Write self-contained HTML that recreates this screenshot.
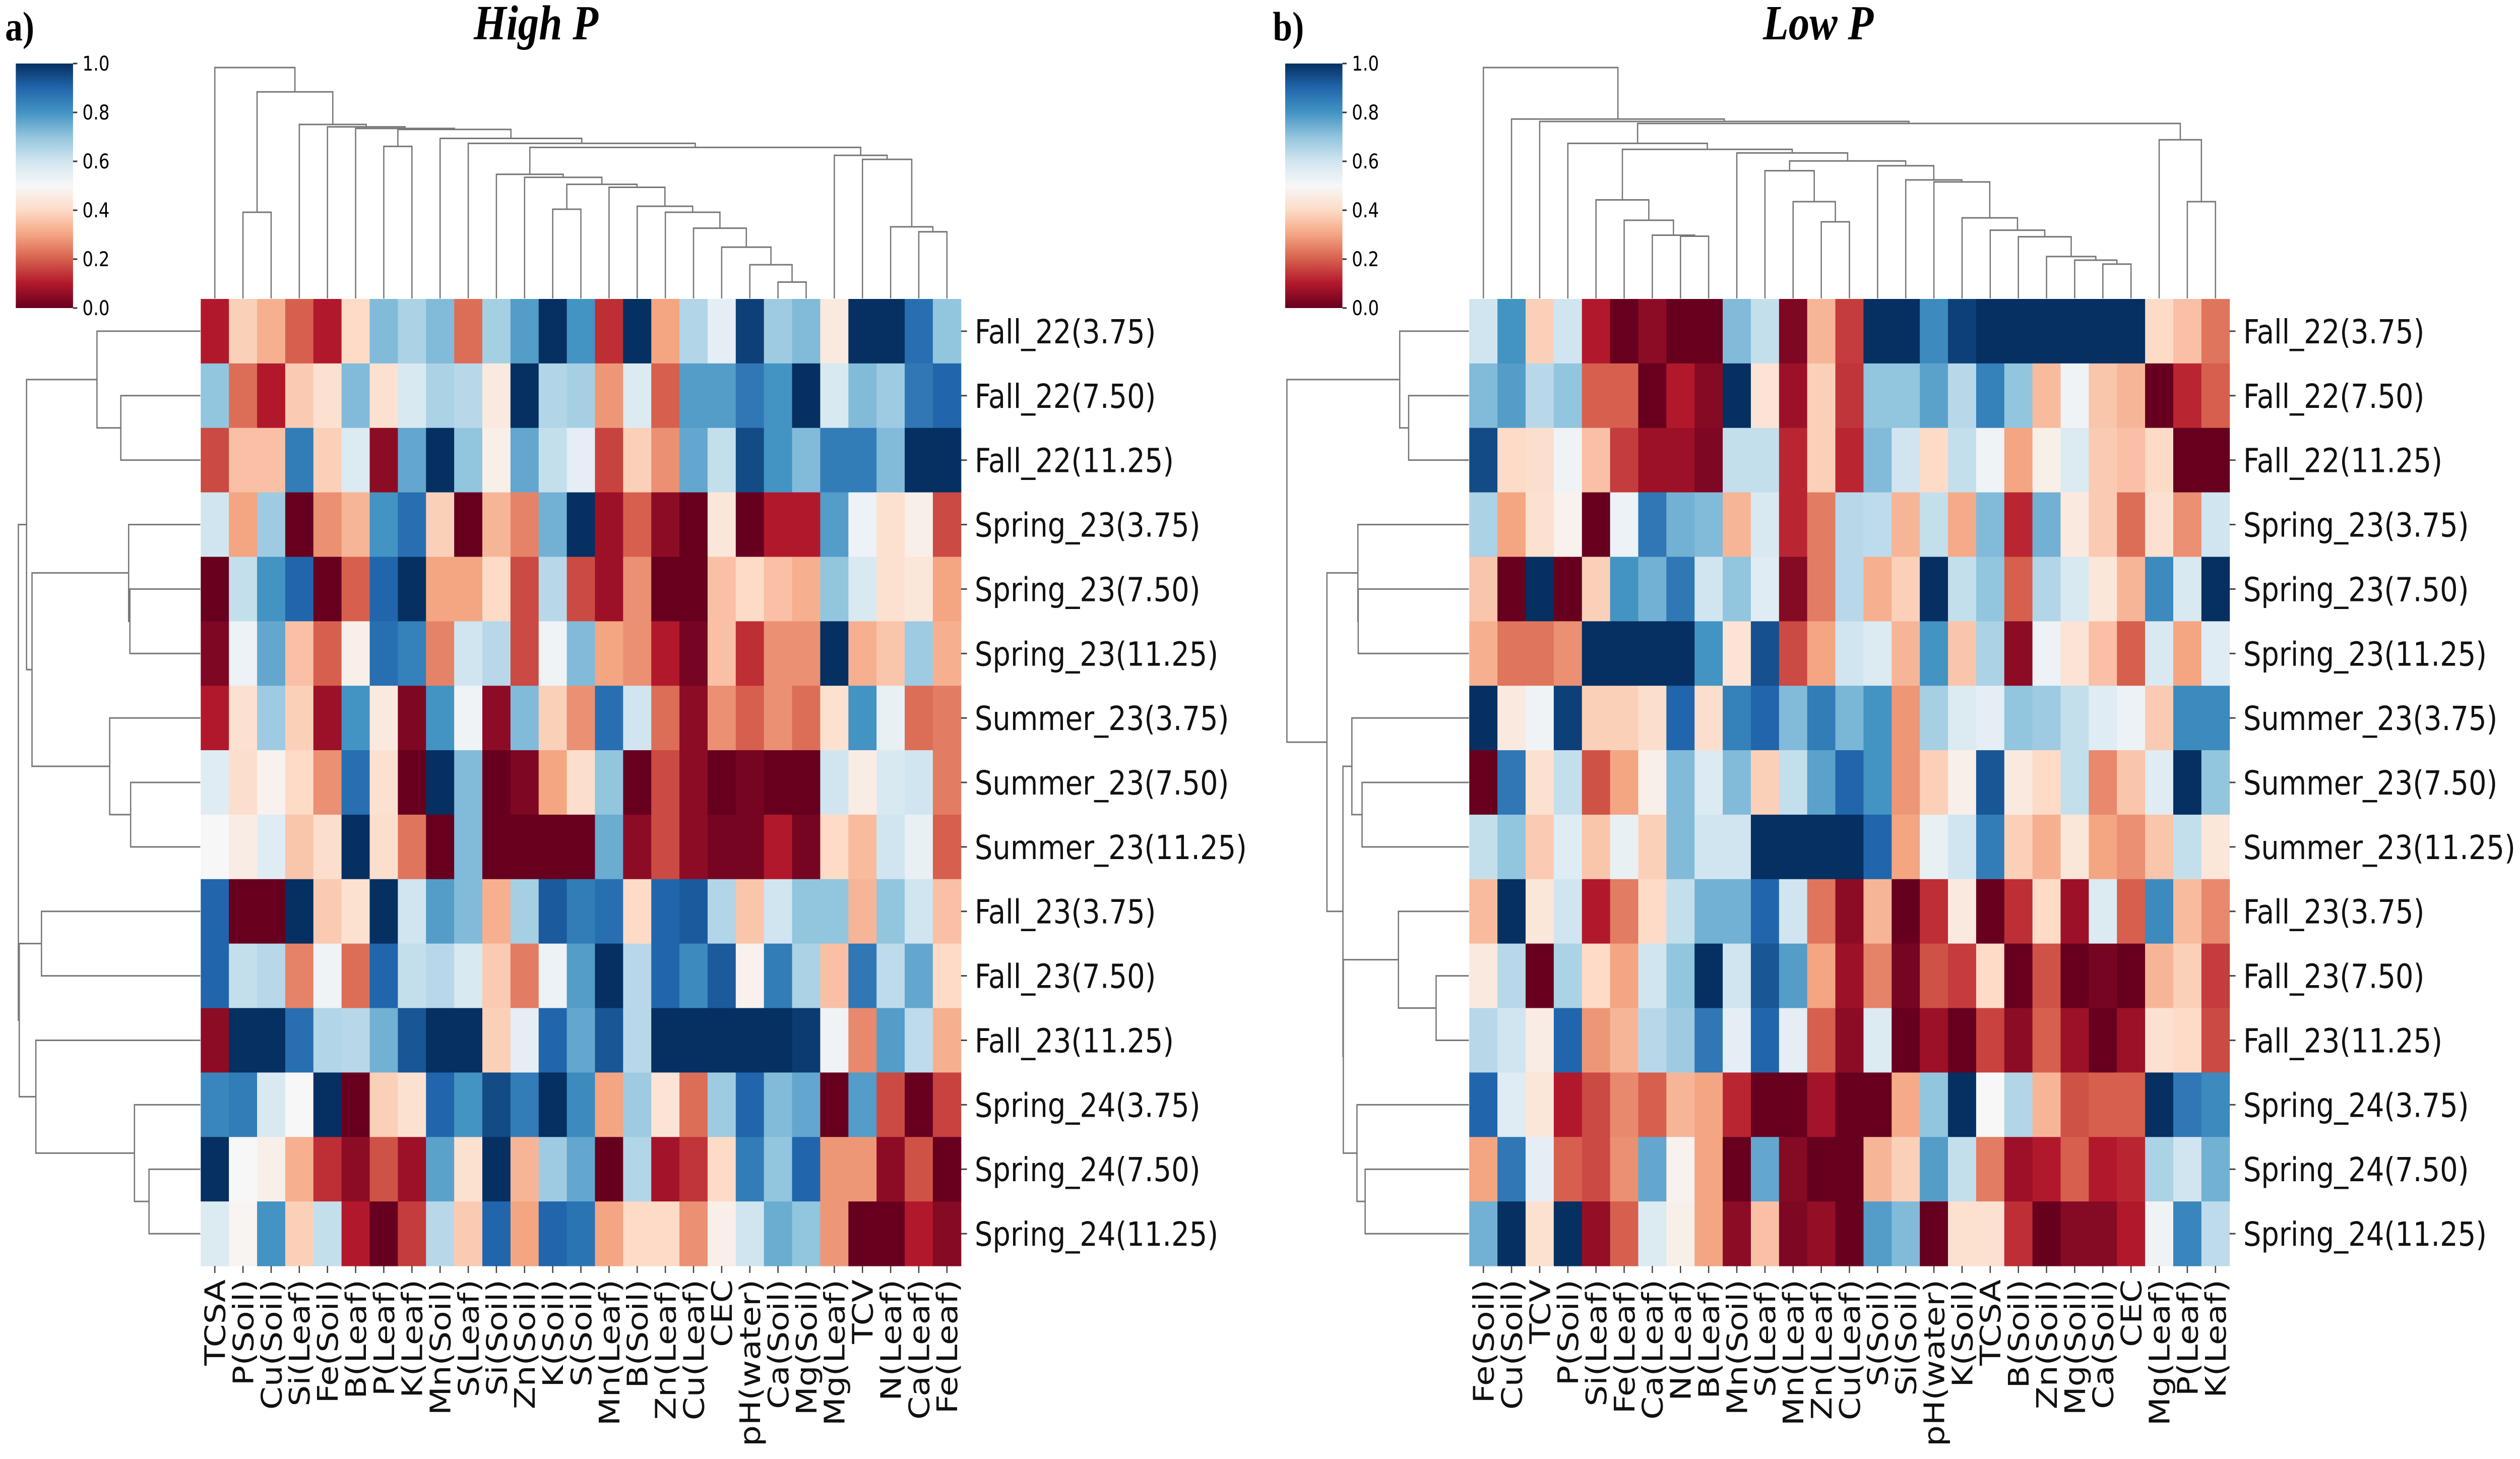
<!DOCTYPE html>
<html><head><meta charset="utf-8"><style>
html,body{margin:0;padding:0;background:#fff;overflow:hidden;width:100vw;height:100vh;}
svg{display:block;width:100vw;height:100vh;}
</style></head><body>
<svg id="chart" viewBox="0 0 5900 2894" preserveAspectRatio="none" xmlns="http://www.w3.org/2000/svg"></svg>
<script>
const rowsLabels = ["Fall_22(3.75)","Fall_22(7.50)","Fall_22(11.25)","Spring_23(3.75)","Spring_23(7.50)","Spring_23(11.25)","Summer_23(3.75)","Summer_23(7.50)","Summer_23(11.25)","Fall_23(3.75)","Fall_23(7.50)","Fall_23(11.25)","Spring_24(3.75)","Spring_24(7.50)","Spring_24(11.25)"];
const colsHigh = ["TCSA","P(Soil)","Cu(Soil)","Si(Leaf)","Fe(Soil)","B(Leaf)","P(Leaf)","K(Leaf)","Mn(Soil)","S(Leaf)","Si(Soil)","Zn(Soil)","K(Soil)","S(Soil)","Mn(Leaf)","B(Soil)","Zn(Leaf)","Cu(Leaf)","CEC","pH(water)","Ca(Soil)","Mg(Soil)","Mg(Leaf)","TCV","N(Leaf)","Ca(Leaf)","Fe(Leaf)"];
const colsLow = ["Fe(Soil)","Cu(Soil)","TCV","P(Soil)","Si(Leaf)","Fe(Leaf)","Ca(Leaf)","N(Leaf)","B(Leaf)","Mn(Soil)","S(Leaf)","Mn(Leaf)","Zn(Leaf)","Cu(Leaf)","S(Soil)","Si(Soil)","pH(water)","K(Soil)","TCSA","B(Soil)","Zn(Soil)","Mg(Soil)","Ca(Soil)","CEC","Mg(Leaf)","P(Leaf)","K(Leaf)"];
const valsHigh = [
[.1,.38,.32,.2,.1,.4,.72,.66,.72,.22,.67,.78,1,.8,.13,1,.3,.65,.55,.97,.68,.72,.45,1,1,.88,.7],
[.7,.22,.1,.37,.42,.72,.42,.58,.66,.64,.45,1,.65,.67,.28,.57,.2,.78,.78,.86,.8,1,.58,.72,.68,.86,.9],
[.17,.35,.35,.85,.38,.57,.05,.76,1,.7,.47,.76,.62,.55,.16,.38,.27,.76,.62,.95,.8,.72,.85,.85,.72,1,1],
[.6,.3,.68,0,.27,.33,.8,.88,.38,0,.33,.25,.74,1,.07,.2,.05,0,.44,0,.1,.1,.78,.53,.42,.47,.17],
[0,.62,.8,.9,0,.2,.9,1,.3,.3,.4,.17,.64,.17,.07,.27,0,0,.35,.4,.35,.32,.7,.58,.42,.44,.3],
[.03,.53,.76,.35,.2,.47,.88,.84,.25,.6,.64,.17,.52,.72,.3,.27,.1,.02,.35,.13,.27,.27,1,.32,.36,.68,.32],
[.1,.42,.68,.38,.07,.8,.45,.03,.8,.52,.05,.72,.38,.27,.88,.6,.22,.05,.27,.2,.27,.22,.42,.8,.54,.22,.24],
[.56,.41,.48,.4,.27,.88,.42,0,1,.72,0,.03,.3,.41,.7,0,.17,.05,0,.02,0,0,.6,.46,.58,.6,.24],
[.5,.46,.56,.36,.41,1,.41,.23,0,.72,0,0,0,0,.75,.05,.17,.05,.02,.02,.1,.02,.4,.34,.6,.54,.2],
[.9,0,0,1,.37,.42,1,.6,.78,.72,.32,.67,.92,.85,.88,.4,.9,.92,.65,.36,.6,.7,.7,.33,.7,.6,.35],
[.9,.62,.64,.25,.52,.22,.9,.62,.64,.58,.37,.24,.53,.78,1,.64,.9,.82,.92,.48,.85,.66,.35,.86,.63,.76,.4],
[.05,1,1,.88,.65,.64,.74,.93,1,1,.38,.55,.9,.76,.93,.64,1,1,1,1,1,.98,.52,.26,.78,.63,.32],
[.83,.85,.58,.5,1,0,.38,.42,.9,.8,.95,.85,1,.82,.3,.68,.43,.22,.68,.9,.72,.76,0,.78,.17,0,.16],
[1,.5,.47,.32,.13,.05,.18,.07,.77,.42,1,.33,.68,.76,0,.65,.08,.14,.4,.85,.7,.9,.28,.28,.05,.18,0],
[.57,.49,.8,.38,.62,.1,0,.15,.64,.37,.9,.3,.9,.87,.3,.4,.4,.27,.47,.6,.75,.7,.28,0,0,.1,.04]];
const valsLow = [
[.6,.8,.38,.6,.1,0,.05,0,0,.72,.62,.03,.33,.15,1,1,.82,.97,1,1,1,1,1,1,.4,.35,.23],
[.72,.78,.64,.7,.2,.2,0,.1,.04,1,.43,.07,.38,.14,.7,.7,.77,.64,.84,.7,.34,.52,.36,.33,0,.12,.2],
[.95,.4,.41,.52,.35,.15,.07,.07,.03,.62,.62,.12,.38,.12,.72,.6,.4,.62,.52,.3,.47,.57,.37,.35,.4,0,0],
[.66,.3,.42,.48,0,.53,.86,.74,.72,.33,.58,.12,.24,.64,.63,.33,.62,.31,.72,.12,.74,.45,.37,.22,.42,.27,.6],
[.36,0,1,0,.38,.8,.74,.86,.6,.7,.56,.04,.24,.64,.32,.38,1,.62,.7,.2,.65,.58,.44,.33,.82,.58,1],
[.32,.23,.23,.27,1,1,1,1,.8,.43,.94,.17,.3,.6,.57,.33,.8,.36,.66,.05,.53,.43,.35,.2,.58,.3,.56],
[1,.45,.52,.97,.38,.38,.41,.9,.41,.84,.9,.72,.85,.73,.8,.28,.67,.57,.55,.7,.68,.62,.56,.53,.37,.82,.82],
[0,.86,.42,.62,.18,.3,.47,.72,.57,.72,.38,.62,.77,.9,.8,.28,.38,.47,.93,.45,.4,.62,.26,.36,.56,1,.7],
[.62,.7,.37,.56,.36,.54,.38,.72,.6,.6,1,1,1,1,.9,.3,.54,.6,.85,.38,.32,.44,.3,.27,.36,.62,.44],
[.34,1,.44,.6,.1,.24,.4,.62,.74,.74,.9,.6,.23,.05,.33,0,.13,.45,0,.13,.4,.07,.57,.2,.82,.34,.26],
[.45,.64,0,.66,.4,.3,.6,.7,1,.6,.93,.78,.3,.07,.25,.02,.18,.15,.4,0,.18,0,.02,0,.33,.38,.15],
[.64,.6,.46,.9,.28,.33,.64,.68,.86,.55,.9,.55,.2,.05,.57,0,.07,0,.16,.05,.2,.07,0,.07,.42,.4,.17],
[.9,.56,.44,.1,.17,.26,.2,.33,.3,.12,0,0,.08,0,0,.31,.7,1,.5,.65,.33,.18,.2,.2,1,.86,.82],
[.3,.86,.55,.2,.17,.27,.76,.48,.3,0,.76,.04,0,0,.33,.38,.78,.62,.24,.07,.1,.2,.1,.12,.66,.6,.74],
[.74,1,.42,1,.06,.2,.57,.47,.3,.05,.35,.03,.06,0,.78,.72,0,.42,.42,.13,0,.04,.04,.1,.52,.83,.63]];
const cbTicks = ["0.0","0.2","0.4","0.6","0.8","1.0"];

// column dendrogram heights given in zoom-pixel units (converted below)
function H(yz){return (1497-yz)/1157;}
const colTreeHigh=(function(){
 const n2021=[20,21,H(1415)],n19=[19,n2021,H(1328)],n18=[18,n19,H(1240)],n17=[17,n18,H(1145)],
 n16=[16,n17,H(1065)],n15=[15,n16,H(1035)],n14=[14,n15,H(940)],n1213=[12,13,H(1050)],
 n12_21=[n1213,n14,H(925)],n11=[11,n12_21,H(890)],n10=[10,n11,H(875)],
 n2526=[25,26,H(1163)],n24=[24,n2526,H(1138)],n23=[23,n24,H(800)],n22=[22,n23,H(780)],
 n10_26=[n10,n22,H(740)],n9=[9,n10_26,H(720)],n8=[8,n9,H(695)],n67=[6,7,H(735)],
 n6_26=[n67,n8,H(650)],n5=[5,n6_26,H(645)],n4=[4,n5,H(637)],n3=[3,n4,H(625)],
 n12=[1,2,H(1065)],n1_26=[n12,n3,H(462)];
 return [0,n1_26,H(340)];})();
const colTreeLow=(function(){
 const n2223=[22,23,H(1325)],n21=[21,n2223,H(1305)],n20=[20,n21,H(1287)],n19=[19,n20,H(1188)],
 n18=[18,n19,H(1155)],n17=[17,n18,H(1093)],n16=[16,n17,H(913)],n15=[15,n16,H(903)],n14=[14,n15,H(832)],
 n1213=[12,13,H(1113)],n11=[11,n1213,H(1012)],n10=[10,n11,H(857)],n10_23=[n10,n14,H(808)],n9=[9,n10_23,H(768)],
 n78=[7,8,H(1185)],n6=[6,n78,H(1180)],n5=[5,n6,H(1105)],n4=[4,n5,H(1003)],n4_23=[n4,n9,H(750)],n3=[3,n4_23,H(720)],
 n2526=[25,26,H(1012)],n24=[24,n2526,H(702)],nA=[n3,n24,H(620)],nB=[2,nA,H(610)],nC=[1,nB,H(598)];
 return [0,nC,H(340)];})();
const rowTreeHigh=[[[0,[1,2,.437],.568],[[3,[4,5,.387],.394],[6,[7,8,.383],.498],.925],.955],[[9,10,.873],[11,[12,[13,14,.282],.362],.904],.995],1];
const rowTreeLow=[[0,[1,2,.331],.38],[[3,[4,5,.608],.61],[[6,[7,8,.587],.643],[[9,[10,11,.18],.387],[12,[13,14,.57],.615],.69],.692],.78],1];

const NS="http://www.w3.org/2000/svg";
const svg=document.getElementById('chart');
const RdBu=[[103,0,31],[178,24,43],[214,96,77],[244,165,130],[253,219,199],[247,247,247],[209,229,240],[146,197,222],[67,147,195],[33,102,172],[5,48,97]];
function color(v){v=Math.max(0,Math.min(1,v));const t=v*10;const i=Math.min(9,Math.floor(t));const f=t-i;const a=RdBu[i],b=RdBu[i+1];return `rgb(${Math.round(a[0]+(b[0]-a[0])*f)},${Math.round(a[1]+(b[1]-a[1])*f)},${Math.round(a[2]+(b[2]-a[2])*f)})`;}
function mk(tag,attrs,parent){const e=document.createElementNS(NS,tag);for(const k in attrs)e.setAttribute(k,attrs[k]);(parent||svg).appendChild(e);return e;}
const FONT='"DejaVu Sans","Liberation Sans",sans-serif';
const Y0=593,Y1=2511;

function drawTree(node,posFn,heightFn,horizontal,g){
 if(typeof node==='number')return {p:posFn(node),h:0};
 const a=drawTree(node[0],posFn,heightFn,horizontal,g),b=drawTree(node[1],posFn,heightFn,horizontal,g);
 const h=node[2];
 let d;
 if(!horizontal){d=`M${a.p},${heightFn(a.h)}V${heightFn(h)}H${b.p}V${heightFn(b.h)}`;}
 else{d=`M${heightFn(a.h)},${a.p}H${heightFn(h)}V${b.p}H${heightFn(b.h)}`;}
 const l=mk('path',{d:d,fill:'none',stroke:'#777','stroke-width':3},g);
 
 
 return {p:(a.p+b.p)/2,h:h};
}

function panel(X0,X1,vals,cols,colTree,rowTree,title,titleX,letter,letterX,cbx,id){
 const g=mk('g',{});
 
 
 const nr=rowsLabels.length,nc=cols.length;
 const cw=(X1-X0)/nc,rh=(Y1-Y0)/nr;
 const xs=i=>X0+cw*i, ys=j=>Y0+rh*j;
 for(let r=0;r<nr;r++)for(let c=0;c<nc;c++){
  const e=mk('rect',{x:xs(c),y:ys(r),width:cw+0.6,height:rh+0.6,fill:color(vals[r][c])},g);
  
  
 }
 for(let r=0;r<nr;r++){
  mk('line',{x1:X1,x2:X1+14,y1:ys(r)+rh/2,y2:ys(r)+rh/2,stroke:'#444','stroke-width':3},g);
  const t=mk('text',{x:X1+32,y:ys(r)+rh/2+24,'font-size':66,'font-family':FONT,fill:'#111'},g);
  t.textContent=rowsLabels[r];
  
  
 }
 for(let c=0;c<nc;c++){
  const cx=xs(c)+cw/2;
  mk('line',{x1:cx,x2:cx,y1:Y1,y2:Y1+14,stroke:'#444','stroke-width':3},g);
  const t=mk('text',{x:0,y:0,'font-size':66,'font-family':FONT,fill:'#111','text-anchor':'end',transform:`translate(${cx+24},${Y1+27}) rotate(-90)`},g);
  t.textContent=cols[c];
  
  
 }
 drawTree(colTree,i=>xs(i)+cw/2,h=>Y0-1-h*458,false,g);
 drawTree(rowTree,j=>ys(j)+rh/2,h=>X0-1-h*426,true,g);
 const cbY0=126,cbY1=611,cbW=134;
 const grad=mk('defs',{},g);
 const lg=mk('linearGradient',{id:'grad'+id,x1:0,y1:1,x2:0,y2:0},grad);
 for(let i=0;i<=10;i++)mk('stop',{offset:i/10,'stop-color':color(i/10)},lg);
 const cb=mk('rect',{x:cbx,y:cbY0,width:cbW,height:cbY1-cbY0,fill:`url(#grad${id})`},g);
 
 
 cbTicks.forEach((s,i)=>{const y=cbY1-(cbY1-cbY0)*parseFloat(s);
  mk('line',{x1:cbx+cbW,x2:cbx+cbW+10,y1:y,y2:y,stroke:'#333','stroke-width':3},g);
  const t=mk('text',{x:cbx+cbW+22,y:y+14,'font-size':40,'font-family':FONT},g);t.textContent=s;
  
  });
 const tt=mk('text',{x:titleX,y:78,'font-size':98,'font-family':'"Liberation Serif",serif','font-weight':'bold','font-style':'italic','text-anchor':'middle'},g);
 tt.textContent=title;
 
 
 const lt=mk('text',{x:letterX,y:80,'font-size':82,'font-family':'"Liberation Serif",serif','font-weight':'bold'},g);
 lt.textContent=letter;
 
 
}
panel(470,2250,valsHigh,colsHigh,colTreeHigh,rowTreeHigh,"High P",1255,"a)",12,37,'high-p');
panel(3440,5220,valsLow,colsLow,colTreeLow,rowTreeLow,"Low P",4257,"b)",2980,3009,'low-p');
</script>
</body></html>
